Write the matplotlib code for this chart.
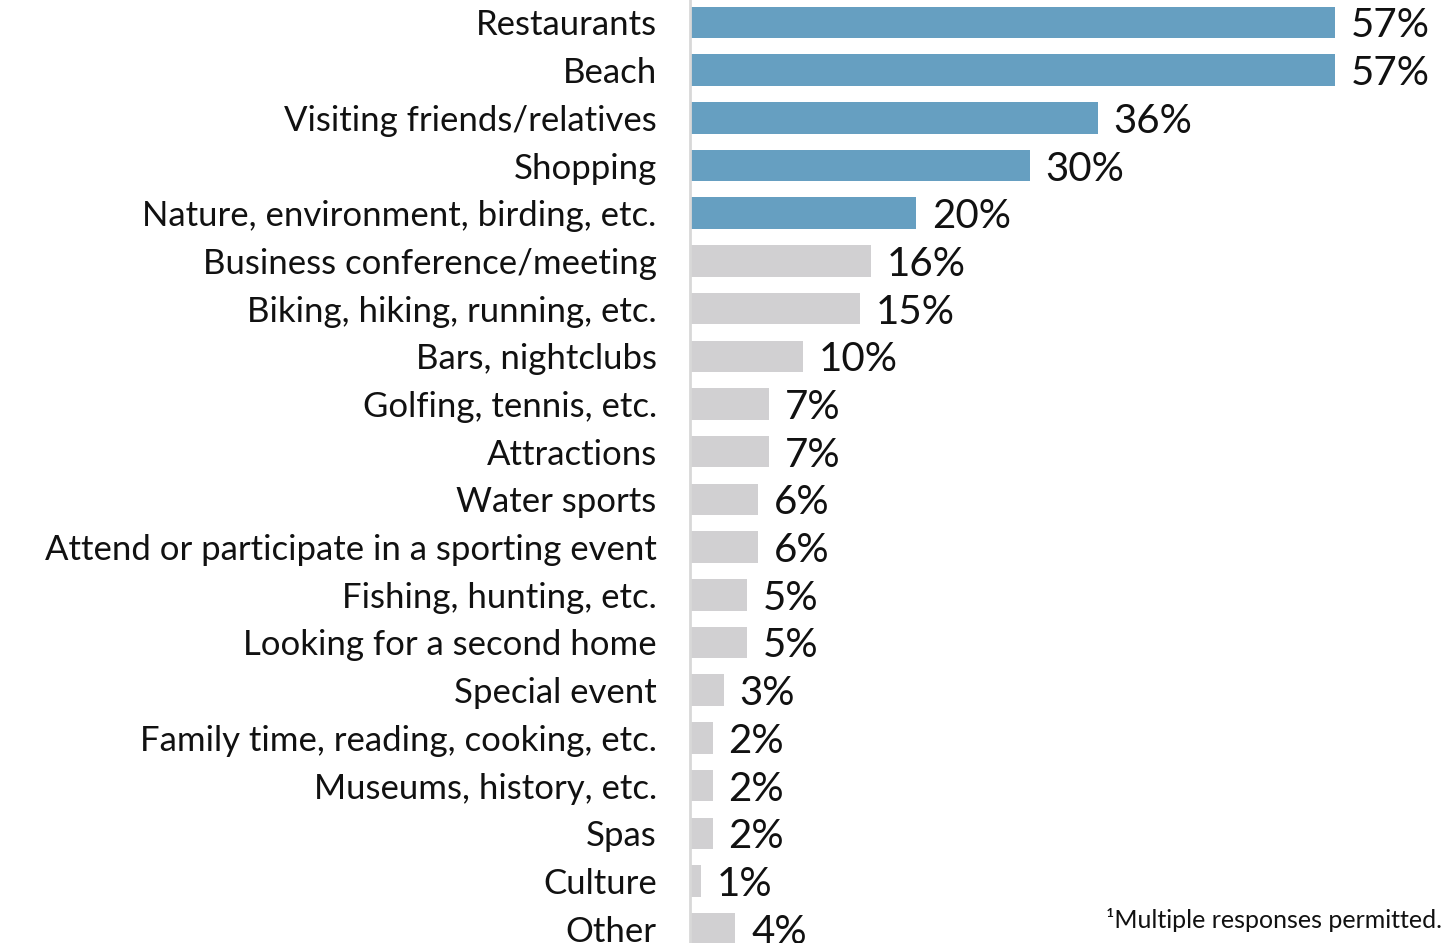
import matplotlib.pyplot as plt

categories = ['Restaurants', 'Beach', 'Visiting friends/relatives', 'Shopping',
              'Nature, environment, birding, etc.', 'Business conference/meeting',
              'Biking, hiking, running, etc.', 'Bars, nightclubs', 'Golfing, tennis, etc.',
              'Attractions', 'Water sports', 'Attend or participate in a sporting event',
              'Fishing, hunting, etc.', 'Looking for a second home', 'Special event',
              'Family time, reading, cooking, etc.', 'Museums, history, etc.', 'Spas',
              'Culture', 'Other']
values = [57, 57, 36, 30, 20, 16, 15, 10, 7, 7, 6, 6, 5, 5, 3, 2, 2, 2, 1, 4]
highlighted = 5

plt.rcParams['font.family'] = ['Lato', 'DejaVu Sans']

fig = plt.figure(figsize=(14.52, 9.43), dpi=100)
ax = fig.add_axes([690 / 1452, 0, 1 - 690 / 1452, 1])

colors = ['#669fc1' if i < highlighted else '#d1d0d2' for i in range(len(values))]
pos = list(range(len(values)))
ax.barh(pos, values, height=0.66, color=colors, zorder=2)

# value labels to the right of each bar
for p, v in zip(pos, values):
    ax.text(v + 1.4, p, f'{v}%', va='center_baseline', ha='left', fontsize=29,
            color='#111111')

ax.set_xlim(0, 67.3)
ax.set_ylim(19.3, -0.47)
ax.set_yticks(pos)
ax.set_yticklabels(categories, fontsize=25, color='#111111')
for lbl in ax.get_yticklabels():
    lbl.set_verticalalignment('center_baseline')
ax.tick_params(axis='y', length=0, pad=24)
ax.set_xticks([])

for s in ['top', 'right', 'bottom']:
    ax.spines[s].set_visible(False)
ax.spines['left'].set_color('#d8d8d8')
ax.spines['left'].set_linewidth(2)

fig.text(1442 / 1452, 1 - 928 / 943, '\u00b9Multiple responses permitted.',
         ha='right', va='baseline', fontsize=18, color='#111111')

fig.savefig('out.png', dpi=100)
